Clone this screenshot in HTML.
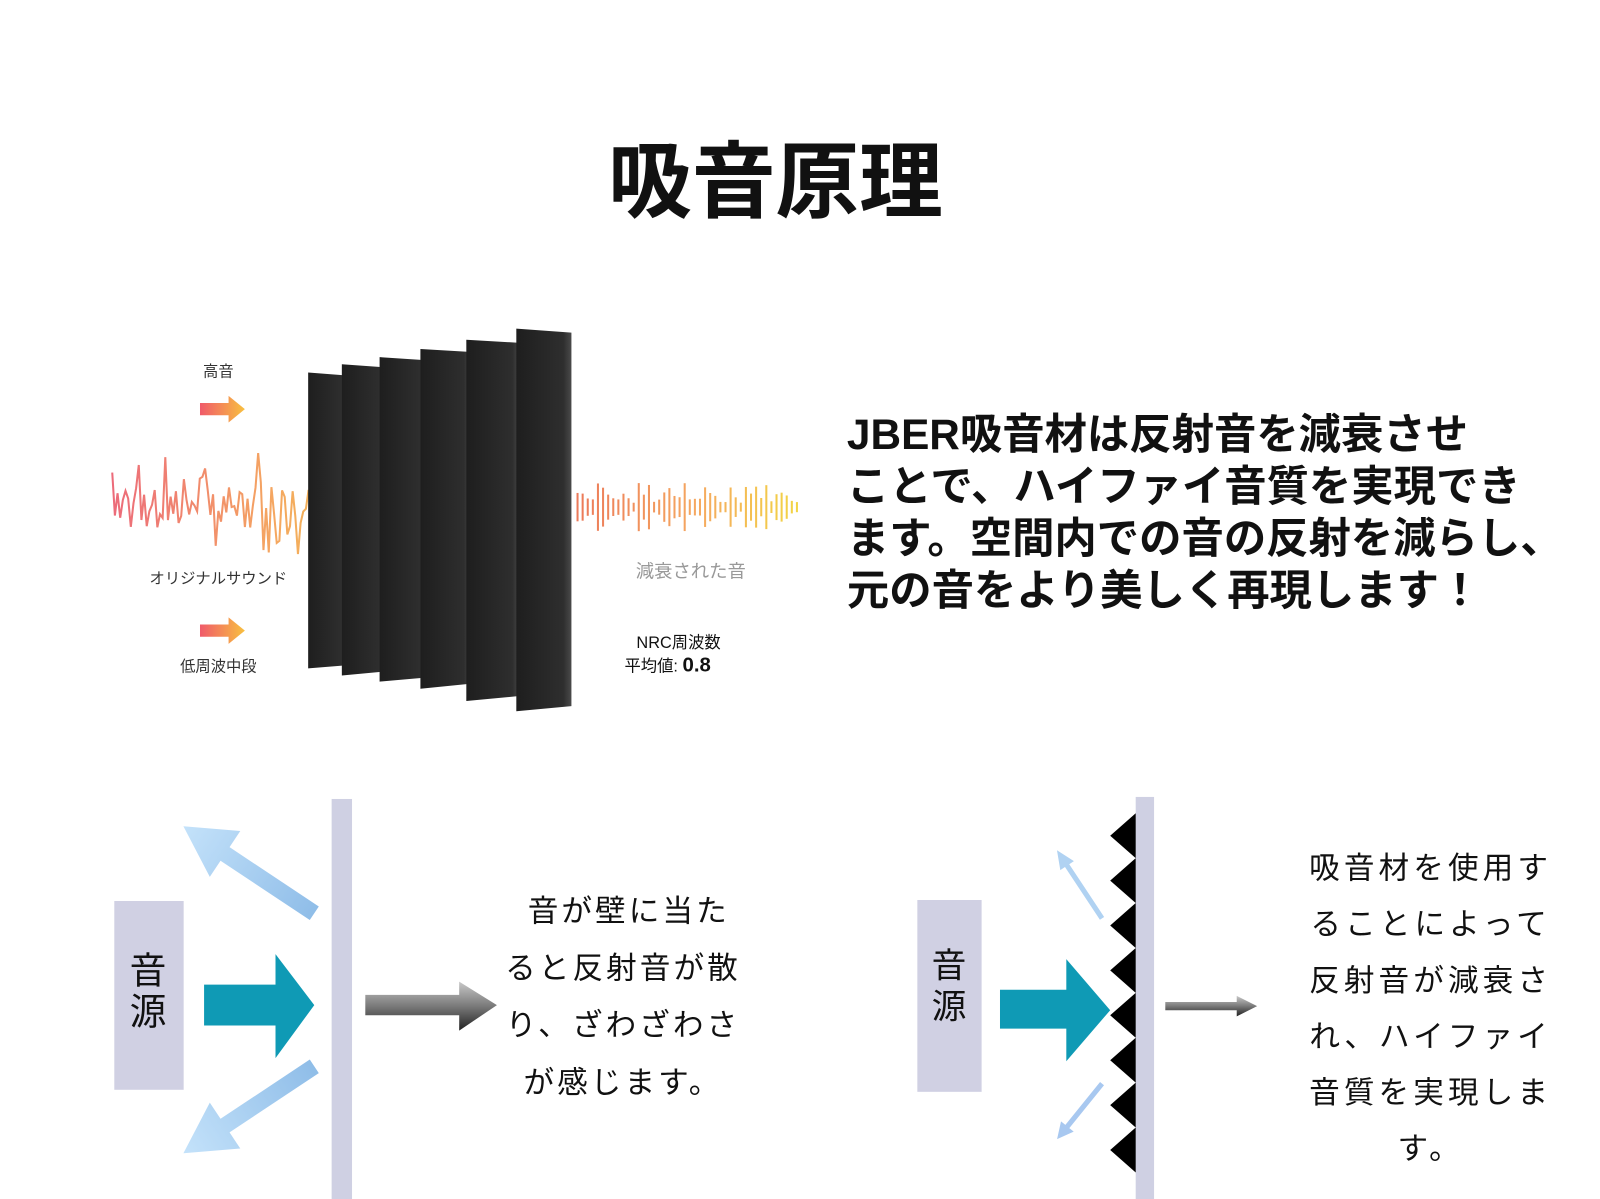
<!DOCTYPE html>
<html><head><meta charset="utf-8"><style>
html,body{margin:0;padding:0;background:#fff;}
body{width:1600px;height:1199px;position:relative;overflow:hidden;font-family:"Liberation Sans","Noto Sans CJK JP",sans-serif;}
#wrap{position:absolute;left:0;top:0;width:1568px;height:1175px;transform:scale(1.0204);transform-origin:0 0;}
.t{position:absolute;white-space:nowrap;color:#111;}
</style></head><body><div id="wrap">
<svg width="1568" height="1175" style="position:absolute;left:0;top:0">
<defs>
<linearGradient id="wg" x1="110" y1="0" x2="380" y2="0" gradientUnits="userSpaceOnUse"><stop offset="0" stop-color="#ec6b7a"/><stop offset="0.6" stop-color="#f5a860"/><stop offset="1" stop-color="#edc54a"/></linearGradient>
<linearGradient id="wg2" x1="565" y1="0" x2="800" y2="0" gradientUnits="userSpaceOnUse"><stop offset="0" stop-color="#ec7a5a"/><stop offset="0.5" stop-color="#f5a860"/><stop offset="1" stop-color="#f2dd40"/></linearGradient>
<linearGradient id="og" x1="0" y1="0" x2="1" y2="0"><stop offset="0" stop-color="#f05a6a"/><stop offset="1" stop-color="#f8c040"/></linearGradient>
<linearGradient id="pg" x1="0" y1="0" x2="1" y2="0"><stop offset="0" stop-color="#1e1e1e"/><stop offset="0.85" stop-color="#2e2e2e"/><stop offset="1" stop-color="#4a4a4a"/></linearGradient>
<linearGradient id="ga" x1="0" y1="0" x2="0" y2="1"><stop offset="0" stop-color="#c8c8c8"/><stop offset="0.5" stop-color="#7a7a7a"/><stop offset="1" stop-color="#222"/></linearGradient>
<linearGradient id="lb" x1="0" y1="0" x2="1" y2="0"><stop offset="0" stop-color="#8fbde8"/><stop offset="1" stop-color="#c4e2fa"/></linearGradient>
</defs>
<text x="760" y="207" font-size="82" font-weight="bold" text-anchor="middle" font-family="Liberation Sans,Noto Sans CJK JP,sans-serif" fill="#111">吸音原理</text>
<g id="wave"></g>
<polygon points="302,365 340,368 340,652 302,655" fill="url(#pg)"/>
<polygon points="335,357 378,360 378,658 335,662" fill="url(#pg)"/>
<polygon points="372,350 418,353 418,664 372,668" fill="url(#pg)"/>
<polygon points="412,342 462,345 462,670 412,675" fill="url(#pg)"/>
<polygon points="457,333 510,336 510,682 457,687" fill="url(#pg)"/>
<polygon points="506,322 560,326 560,692 506,697" fill="url(#pg)"/>
<polygon points="196,395 224,395 224,388 240,401 224,414 224,407 196,407" fill="url(#og)"/>
<polygon points="196,612 224,612 224,605 240,618 224,631 224,624 196,624" fill="url(#og)"/>
<text x="214" y="369" font-size="15" text-anchor="middle" fill="#333" font-family="Liberation Sans,Noto Sans CJK JP,sans-serif">高音</text>
<text x="214" y="572" font-size="15" text-anchor="middle" fill="#333" font-family="Liberation Sans,Noto Sans CJK JP,sans-serif">オリジナルサウンド</text>
<text x="214" y="658" font-size="15" text-anchor="middle" fill="#333" font-family="Liberation Sans,Noto Sans CJK JP,sans-serif">低周波中段</text>
<text x="677" y="566" font-size="18" text-anchor="middle" fill="#999" font-family="Liberation Sans,Noto Sans CJK JP,sans-serif">減衰された音</text>
<text x="665" y="635" font-size="16" text-anchor="middle" fill="#111" font-family="Liberation Sans,Noto Sans CJK JP,sans-serif">NRC周波数</text>
<text x="612" y="658" font-size="16" fill="#111" font-family="Liberation Sans,Noto Sans CJK JP,sans-serif">平均値: <tspan font-size="20" font-weight="bold">0.8</tspan></text>

<rect x="325" y="783" width="20" height="416" fill="#cfd0e3"/>
<rect x="112" y="883" width="68" height="185" fill="#d0d0e3"/>
<polygon points="200,965 270,965 270,935 308,985 270,1037 270,1005 200,1005" fill="#0f9ab5"/>
<g transform="translate(308,895) rotate(213.6)"><polygon points="0,-8 105,-8 105,-27 154,0 105,27 105,8 0,8" fill="url(#lb)"/></g>
<g transform="translate(308,1045) rotate(146.4)"><polygon points="0,-8 105,-8 105,-27 154,0 105,27 105,8 0,8" fill="url(#lb)"/></g>
<polygon points="358,975 450,975 450,962 487,985 450,1010 450,995 358,995" fill="url(#ga)"/>

<rect x="1113" y="781" width="18" height="420" fill="#cfd0e3"/>
<g id="zig"></g>
<rect x="899" y="882" width="63" height="188" fill="#d0d0e3"/>
<polygon points="980,970 1045,970 1045,940 1088,990 1045,1040 1045,1008 980,1008" fill="#0f9ab5"/>
<g transform="translate(1080,900) rotate(236.5)"><polygon points="0,-2.5 62,-2.5 62,-8 80,0 62,8 62,2.5 0,2.5" fill="#b0d2f2"/></g>
<g transform="translate(1080,1062) rotate(129)"><polygon points="0,-2.5 54,-2.5 54,-8 70,0 54,8 54,2.5 0,2.5" fill="#a8c8f0"/></g>
<polygon points="1142,982 1212,982 1212,976 1232,986 1212,996 1212,990 1142,990" fill="url(#ga)"/>
</svg>
<div class="t" style="left:830px;top:400px;font-size:41.5px;font-weight:bold;line-height:51px;color:#111">JBER吸音材は反射音を減衰させ<br>ことで、ハイファイ音質を実現でき<br>ます。空間内での音の反射を減らし、<br>元の音をより美しく再現します！</div>
<div class="t" style="left:127px;top:932px;font-size:36px;line-height:40px">音<br>源</div>
<div class="t" style="left:913px;top:927px;font-size:34px;line-height:40px">音<br>源</div>
<div class="t" style="left:495px;top:866px;font-size:30px;line-height:56px;letter-spacing:3px;text-align:center">&nbsp;音が壁に当た<br>ると反射音が散<br>り、ざわざわさ<br>が感じます。</div>
<div class="t" style="left:1283px;top:824px;font-size:30px;line-height:55px;letter-spacing:4px;text-align:center">吸音材を使用す<br>ることによって<br>反射音が減衰さ<br>れ、ハイファイ<br>音質を実現しま<br>す。</div>
</div>
<script>
var ns="http://www.w3.org/2000/svg";
function rnd(s){var x=Math.sin(s*12.9898)*43758.5453;return x-Math.floor(x);}
var g=document.getElementById('wave');
var pts=[];for(var x=110;x<=370;x+=2.6){var env=(x<300?58:45);var r=rnd(x);var a=(r*2-1)*env*(rnd(x+7)>0.6?1:0.35);pts.push(x.toFixed(1)+","+(497+a).toFixed(1));}
var p=document.createElementNS(ns,'polyline');p.setAttribute('points',pts.join(' '));p.setAttribute('fill','none');p.setAttribute('stroke','url(#wg)');p.setAttribute('stroke-width','2');g.appendChild(p);
for(var x=566;x<=785;x+=5){var h=4+rnd(x)*10;if(rnd(x+3)>0.75)h+=10;var l=document.createElementNS(ns,'line');l.setAttribute('x1',x);l.setAttribute('x2',x);l.setAttribute('y1',497-h);l.setAttribute('y2',497+h);l.setAttribute('stroke','url(#wg2)');l.setAttribute('stroke-width','2');g.appendChild(l);}
var z=document.getElementById('zig');var s="1113,797 ";for(var k=0;k<8;k++){var y=797+k*44;s+="1088,"+(y+22)+" 1113,"+(y+44)+" ";}
var pg=document.createElementNS(ns,'polygon');pg.setAttribute('points',s);pg.setAttribute('fill','#000');z.appendChild(pg);
</script>
</body></html>
